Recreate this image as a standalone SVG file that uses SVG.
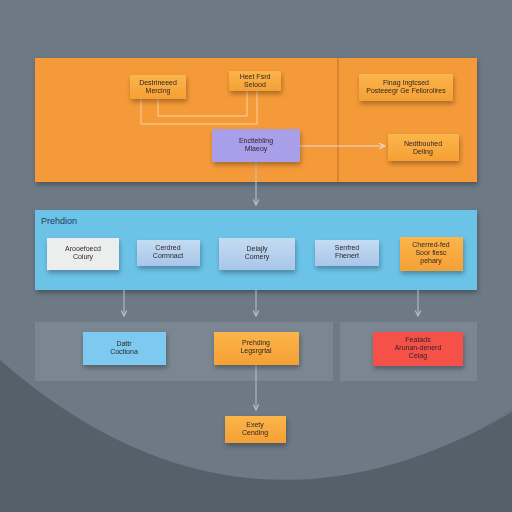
<svg xmlns="http://www.w3.org/2000/svg" width="512" height="512" viewBox="0 0 512 512">
<defs>
<linearGradient id="bg" x1="0" y1="0" x2="0" y2="1"><stop offset="0" stop-color="#5a6875"/><stop offset="1" stop-color="#6a7784"/></linearGradient>
<linearGradient id="org" x1="0" y1="0" x2="0" y2="1"><stop offset="0" stop-color="#fbb54a"/><stop offset="1" stop-color="#f5a035"/></linearGradient>
<linearGradient id="blu" x1="0" y1="0" x2="0" y2="1"><stop offset="0" stop-color="#c4dcf2"/><stop offset="1" stop-color="#a9c6ea"/></linearGradient>
<filter id="sh" x="-20%" y="-20%" width="140%" height="160%"><feDropShadow dx="1" dy="3" stdDeviation="2.5" flood-color="#000" flood-opacity="0.3"/></filter>
<marker id="ah" viewBox="0 0 10 10" refX="9" refY="5" markerWidth="7" markerHeight="7" orient="auto"><path d="M1,1 L9,5 L1,9" fill="none" stroke="#e8e0d8" stroke-width="1.5"/></marker>
<marker id="ag" viewBox="0 0 10 10" refX="9" refY="5" markerWidth="7" markerHeight="7" orient="auto"><path d="M1,1 L9,5 L1,9" fill="none" stroke="#b8c4ce" stroke-width="1.5"/></marker>
</defs>
<style>
.t{font-family:"Liberation Sans",Arial,sans-serif;font-size:7px;fill:#2e2626;text-anchor:middle}
.node{filter:url(#sh)}
.c{fill:none;stroke-width:1}
</style>
<rect width="512" height="512" fill="url(#bg)"/>
<circle cx="256" cy="60" r="432" fill="#6d7a86"/>
<path d="M0,360 Q240,570 512,412 L512,512 L0,512 Z" fill="#55606b"/>
<g id="panels">
<rect x="35" y="58" width="442" height="124" fill="#f59a38" filter="url(#sh)"/>
<rect x="337" y="58" width="2" height="124" fill="#d9852f"/>
<rect x="35" y="210" width="442" height="80" fill="#6cc3e8" filter="url(#sh)"/>
<text x="41" y="224" font-family="Liberation Sans,Arial,sans-serif" font-size="9" fill="#2a3a55">Prehdion</text>
<rect x="35" y="322" width="298" height="59" fill="#7a8691"/>
<rect x="340" y="322" width="137" height="59" fill="#7a8691"/>
</g>
<g id="connectors">
<path class="c" stroke="#f9d3a6" d="M141,99 V124 H257 V91"/>
<path class="c" stroke="#f9d3a6" d="M158,99 V116 H247 V91"/>
<path class="c" stroke="#e8ddd6" d="M300,146 H385" marker-end="url(#ah)"/>
<path class="c" stroke="#b8c4ce" d="M256,162 V205" marker-end="url(#ag)"/>
<path class="c" stroke="#b8c4ce" d="M124,290 V316" marker-end="url(#ag)"/>
<path class="c" stroke="#b8c4ce" d="M256,290 V316" marker-end="url(#ag)"/>
<path class="c" stroke="#b8c4ce" d="M418,290 V316" marker-end="url(#ag)"/>
<path class="c" stroke="#b8c4ce" d="M256,365 V410" marker-end="url(#ag)"/>
</g>
<g id="n1" class="node"><rect x="130" y="75" width="56" height="24" fill="url(#org)"/><text class="t" x="158" y="85">Destrineeed</text><text class="t" x="158" y="93">Mercing</text></g>
<g id="n2" class="node"><rect x="229" y="71" width="52" height="20" fill="url(#org)"/><text class="t" x="255" y="79">Heet Fsrd</text><text class="t" x="255" y="87">Selood</text></g>
<g id="n3" class="node"><rect x="212" y="129" width="88" height="33" fill="#a99ee8"/><text class="t" x="256" y="143">Enctlebling</text><text class="t" x="256" y="151">Mlaeoy</text></g>
<g id="n4" class="node"><rect x="359" y="74" width="94" height="27" fill="url(#org)"/><text class="t" x="406" y="85">Finag Ingtcsed</text><text class="t" x="406" y="93">Posteeegr Ge Feliorolires</text></g>
<g id="n5" class="node"><rect x="388" y="134" width="71" height="27" fill="url(#org)"/><text class="t" x="423" y="146">Nedtbouhed</text><text class="t" x="423" y="154">Deling</text></g>
<g id="n6" class="node"><rect x="47" y="238" width="72" height="32" fill="#eceeee"/><text class="t" x="83" y="251">Arooefoecd</text><text class="t" x="83" y="259">Coiury</text></g>
<g id="n7" class="node"><rect x="137" y="240" width="63" height="26" fill="url(#blu)"/><text class="t" x="168" y="250">Cerdred</text><text class="t" x="168" y="258">Cormnact</text></g>
<g id="n8" class="node"><rect x="219" y="238" width="76" height="32" fill="url(#blu)"/><text class="t" x="257" y="251">Delajly</text><text class="t" x="257" y="259">Comery</text></g>
<g id="n9" class="node"><rect x="315" y="240" width="64" height="26" fill="url(#blu)"/><text class="t" x="347" y="250">Senfred</text><text class="t" x="347" y="258">Fhenert</text></g>
<g id="n10" class="node"><rect x="400" y="237" width="63" height="34" fill="url(#org)"/><text class="t" x="431" y="247">Cherred-fed</text><text class="t" x="431" y="255">Soor fiesc</text><text class="t" x="431" y="263">pehary</text></g>
<g id="n11" class="node"><rect x="83" y="332" width="83" height="33" fill="#7ec9ef"/><text class="t" x="124" y="346">Dattr</text><text class="t" x="124" y="354">Coctiona</text></g>
<g id="n12" class="node"><rect x="214" y="332" width="85" height="33" fill="url(#org)"/><text class="t" x="256" y="345">Prehding</text><text class="t" x="256" y="353">Legsrgrtal</text></g>
<g id="n13" class="node"><rect x="373" y="332" width="90" height="34" fill="#f65148"/><text class="t" x="418" y="342">Featads</text><text class="t" x="418" y="350">Arunan-denerd</text><text class="t" x="418" y="358">Ceiag</text></g>
<g id="n14" class="node"><rect x="225" y="416" width="61" height="27" fill="url(#org)"/><text class="t" x="255" y="427">Exety</text><text class="t" x="255" y="435">Cending</text></g>
</svg>
